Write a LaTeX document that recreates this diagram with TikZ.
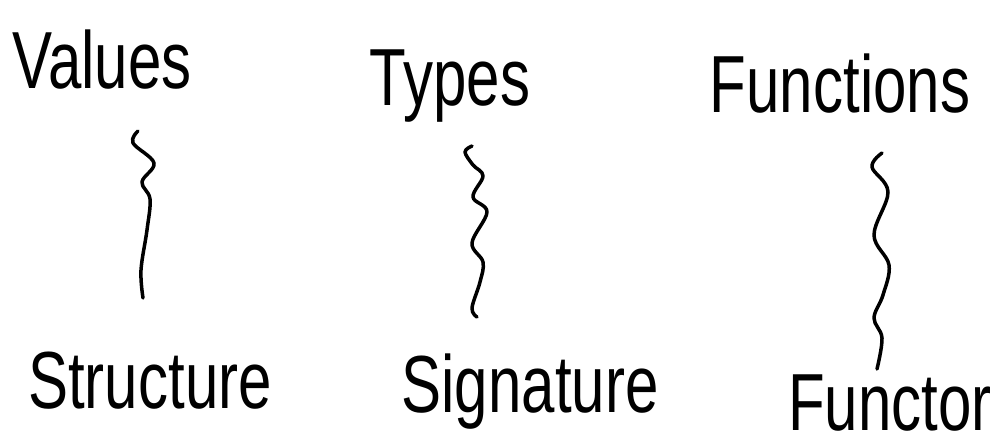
\documentclass[tikz,border=0pt]{standalone}
\usepackage{fontspec}
\setmainfont{Liberation Sans}
\usepackage{graphicx}
\usepackage{tikz}

% tall, narrow-ish lettering
\newcommand{\tallword}[1]{\scalebox{1}[1.35]{#1}}

\begin{document}
\begin{tikzpicture}[x=1pt,y=-1pt,
	word/.style={font=\fontsize{60}{72}\selectfont,anchor=base,inner sep=0pt},
	wiggle/.style={line width=3.5pt,line cap=round,line join=round}]
	\useasboundingbox (0,0) rectangle (993,447);
	% top row
	\node[word] (values) at (102,88) {\tallword{Values}};
	\node[word] (types) at (450,105) {\tallword{Types}};
	\node[word] (functions) at (840,112) {\tallword{Functions}};
	% bottom row
	\node[word] (structure) at (150,408) {\tallword{Structure}};
	\node[word] (signature) at (530,412) {\tallword{Signature}};
	\node[word] (functor) at (890,430) {\tallword{Functor}};
	% wavy links
	\draw[wiggle] plot[smooth,tension=0.6] coordinates {(138,131) (133,143) (154,163) (142,182) (150,199) (147,230) (141,270) (143,298)};
	\draw[wiggle] plot[smooth,tension=0.6] coordinates {(472,146) (465,152) (473,165) (483,176) (473,197) (487,212) (472,243) (483,262) (480,282) (472,308) (477,317)};
	\draw[wiggle] plot[smooth,tension=0.6] coordinates {(882,153) (872,167) (888,192) (874,235) (889,265) (883,295) (874,318) (882,338) (877,369)};
\end{tikzpicture}
\end{document}
